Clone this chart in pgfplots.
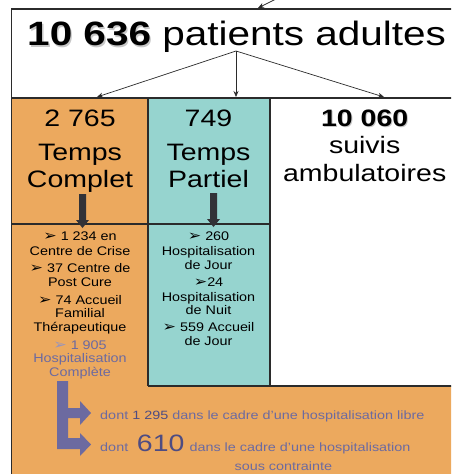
\documentclass[border=0pt]{standalone}
\usepackage{pgfplots}
\pgfplotsset{compat=1.18}
\usetikzlibrary{arrows.meta}
\usepackage{fontspec}
\setmainfont{Liberation Sans}
\newfontfamily\dv{DejaVu Sans}
\definecolor{orng}{RGB}{236,169,94}
\definecolor{teal2}{RGB}{150,212,207}
\definecolor{ink}{RGB}{35,31,32}
\definecolor{ln}{RGB}{43,43,43}
\definecolor{purp}{RGB}{108,106,160}
\definecolor{purpd}{RGB}{78,76,130}
\definecolor{purpl}{RGB}{150,148,190}
\definecolor{arrowc}{RGB}{50,50,55}
\newcommand{\fs}[1]{\fontsize{#1}{#1}\selectfont}
\newcommand{\bul}{{\dv\fontsize{14}{14}\selectfont\char"27A2}}
\newcommand{\st}[3]{\node[anchor=base,font=\fs{12.5},xscale=1.15,inner sep=0pt] at (axis cs:#1,#2) {#3};}
\newcommand{\bg}[3]{\node[anchor=base,font=\fs{23.75},xscale=1.2,inner sep=0pt] at (axis cs:#1,#2) {#3};}
\begin{document}
\begin{tikzpicture}
\begin{axis}[scale only axis, width=451pt, height=474pt,
  xmin=0, xmax=451, ymin=0, ymax=474, y dir=reverse,
  axis lines=none, clip=true,
  every node/.append style={text=ink}]
% background
\addplot[draw=none, fill=white] coordinates {(0,0)(451,0)(451,474)(0,474)} -- cycle;
% orange region
\addplot[draw=none, fill=orng] coordinates {(11.5,98)(148,98)(148,386)(460,386)(460,480)(11.5,480)} -- cycle;
% teal box
\addplot[draw=none, fill=teal2] coordinates {(148,98)(270,98)(270,386)(148,386)} -- cycle;
% borders
\addplot[ln, line width=1.8pt] coordinates {(11.5,480)(11.5,9)(460,9)};
\addplot[ln, line width=1.8pt] coordinates {(11.5,98)(460,98)};
\addplot[ln, line width=1.8pt] coordinates {(148,98)(148,386)};
\addplot[ln, line width=1.8pt] coordinates {(270,98)(270,386)};
\addplot[ln, line width=1.8pt] coordinates {(148,386)(460,386)};
\addplot[ln, line width=1.8pt] coordinates {(11.5,224)(270,224)};
% thin arrows from title
\addplot[ln, line width=0.7pt, -{Stealth[length=6pt,width=5pt]}] coordinates {(236,51)(97,97)};
\addplot[ln, line width=0.7pt, -{Stealth[length=6pt,width=5pt]}] coordinates {(236,51)(236,97)};
\addplot[ln, line width=0.7pt, -{Stealth[length=6pt,width=5pt]}] coordinates {(236,51)(384,97)};
\addplot[ln, line width=0.7pt, -{Stealth[length=6pt,width=5pt]}] coordinates {(276,-1)(258,8)};
% thick down arrows
\addplot[draw=none, fill=arrowc] coordinates {(79,194)(86,194)(86,220)(89,220)(82.5,228)(76,220)(79,220)} -- cycle;
\addplot[draw=none, fill=arrowc] coordinates {(210,193)(217,193)(217,219)(220,219)(213.5,227)(207,219)(210,219)} -- cycle;
% purple double arrow
\addplot[draw=none, fill=purp] coordinates {(57,381)(68,381)(68,408)(80,408)(80,401)(91,413)(80,425)(80,418)(68,418)(68,438)(80,438)(80,433)(91,444.5)(80,456)(80,449)(57,449)} -- cycle;
% title
\node[anchor=base west,font=\fs{33.75},xscale=1.2,inner sep=0pt,text=black!22] at (axis cs:28.3,47) {\bfseries 10 636};
\node[anchor=base west,font=\fs{33.75},xscale=1.2,inner sep=0pt] at (axis cs:27,45.7) {\textbf{10 636} patients adultes};
% big labels
\bg{80}{126}{2 765}
\bg{80}{160}{Temps}
\bg{80}{187}{Complet}
\bg{208.5}{126}{749}
\bg{208.5}{160}{Temps}
\bg{208.5}{187}{Partiel}
\node[anchor=base,font=\fs{23.75},xscale=1.2,inner sep=0pt,text=black!22] at (axis cs:365.7,127) {\bfseries 10 060};
\bg{364.7}{126}{\bfseries 10 060}
\bg{364.7}{153.3}{suivis}
\bg{364.7}{181.7}{ambulatoires}
% left column details
\st{80}{240.7}{\bul\ 1 234 en}
\st{80}{255}{Centre de Crise}
\st{80}{272.3}{\bul\ 37 Centre de}
\st{80}{286.7}{Post Cure}
\st{80}{304}{\bul\ 74 Accueil}
\st{80}{317.7}{Familial}
\st{80}{331.7}{Thérapeutique}
\st{80}{349.3}{\textcolor{purpl}{\bul}\ \textcolor{purp}{1 905}}
\st{80}{362.7}{\textcolor{purp}{Hospitalisation}}
\st{80}{376.7}{\textcolor{purp}{Complète}}
% teal column details
\st{208.5}{240}{\bul\ 260}
\st{208.5}{255}{Hospitalisation}
\st{208.5}{269.3}{de Jour}
\st{208.5}{286}{\bul 24}
\st{208.5}{301}{Hospitalisation}
\st{208.5}{314.3}{de Nuit}
\st{208.5}{331.7}{\bul\ 559 Accueil}
\st{208.5}{345.7}{de Jour}
% bottom text
\node[anchor=base west,font=\fs{12},xscale=1.2,inner sep=0pt,text=purp] at (axis cs:100,419) {dont \textcolor{purpd}{1 295} dans le cadre d{\char"0027}une hospitalisation libre};
\node[anchor=base west,font=\fs{12},xscale=1.2,inner sep=0pt,text=purp] at (axis cs:100,451) {dont};
\node[anchor=base west,font=\fs{23.7},xscale=1.2,inner sep=0pt,text=purpd] at (axis cs:136.7,451) {610};
\node[anchor=base west,font=\fs{12},xscale=1.2,inner sep=0pt,text=purp] at (axis cs:189.3,451) {dans le cadre d{\char"0027}une hospitalisation};
\node[anchor=base,font=\fs{12},xscale=1.2,inner sep=0pt,text=purp] at (axis cs:283.4,470) {sous contrainte};
\end{axis}
\end{tikzpicture}
\end{document}
